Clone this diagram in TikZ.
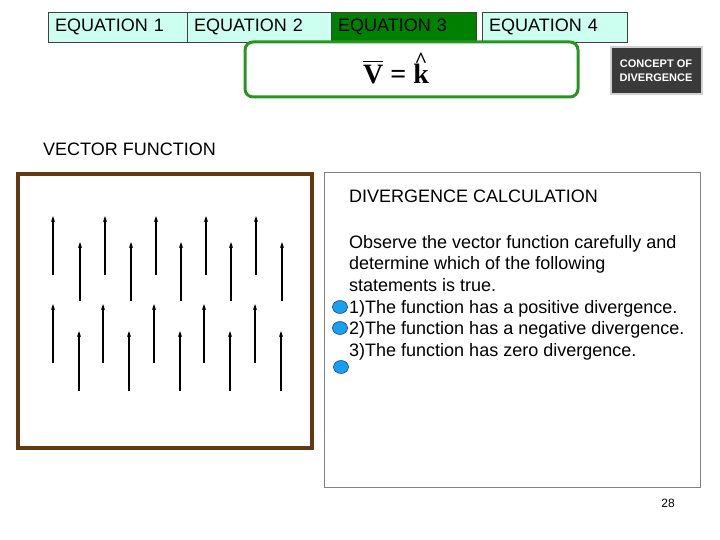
\documentclass[tikz,border=0pt]{standalone}
\usepackage{fontspec}
\setmainfont{Liberation Sans}
\newfontfamily\eqfont{Liberation Serif}
\usetikzlibrary{shapes.geometric,arrows.meta}
\definecolor{tabcyan}{RGB}{204,255,240}
\definecolor{tabgreen}{RGB}{0,128,0}
\definecolor{boxgreen}{RGB}{40,150,30}
\definecolor{framebrown}{RGB}{99,57,15}
\definecolor{btngray}{RGB}{58,58,58}
\definecolor{radioblue}{RGB}{25,160,235}
% bar over V, hat over k
\newcommand\barV{\vbox{\hrule height 1.6pt\kern 3.5pt\hbox{V}}}
\newcommand\hatk{\vbox{\offinterlineskip\halign{\hfil##\hfil\cr
    {\fontsize{22}{24}\selectfont\textasciicircum}\cr\noalign{\kern-3pt}k\cr}}}
\tikzset{
    tabbox/.style={draw=black!75, fill=tabcyan, anchor=west, minimum height=30pt,
        inner sep=0pt, inner xsep=7pt, align=left, text width=#1,
        font=\fontsize{18}{21}\selectfont},
    radio/.style={ellipse, draw=blue!60!black, fill=radioblue, minimum width=15pt, minimum height=13pt, inner sep=0pt},
    vec/.style={line width=1.1pt, -{Stealth[length=6pt,width=4pt]}}
}
\begin{document}
\begin{tikzpicture}[x=1pt, y=-1pt]
    \useasboundingbox (0,0) rectangle (720,540);

    % Tabs
    \node[tabbox=125pt] (tab1) at (48,27) {EQUATION 1};
    \node[tabbox=130pt] (tab2) at (187,27) {EQUATION 2};
    \node[tabbox=131pt, fill=tabgreen] (tab3) at (331,27) {EQUATION 3};
    \node[tabbox=131pt] (tab4) at (482,27) {EQUATION 4};

    % Formula box
    \node[draw=boxgreen, line width=3pt, rounded corners=8pt, minimum width=333pt, minimum height=55pt] (formula) at (411.5,69.5) {};
    \node[anchor=base, inner sep=0pt, font=\fontsize{28}{30}\selectfont\eqfont\bfseries] (eq) at (396,84)
        {\barV\ = \hatk};

    % Button
    \node[fill=btngray, draw=gray!35, line width=2pt, minimum width=91pt, minimum height=47pt,
        text=white, align=center, font=\fontsize{11}{14}\selectfont\bfseries] (concept) at (656,71)
        {CONCEPT OF\\DIVERGENCE};

    % Left side
    \node[anchor=west, inner sep=0pt, font=\fontsize{18}{21}\selectfont] (vftitle) at (43,149) {VECTOR FUNCTION};
    \node[draw=framebrown, line width=4pt, minimum width=294pt, minimum height=274pt] (frame) at (165,311) {};

    % Vector field
    \foreach \x in {53,105,156,206,256}
        \draw[vec] (\x,275) -- (\x,216);
    \foreach \x in {80,131,181,231,282}
        \draw[vec] (\x,301) -- (\x,242);
    \foreach \x in {53,103,154,204,255}
        \draw[vec] (\x,363) -- (\x,304);
    \foreach \x in {79,129,180,230,281}
        \draw[vec] (\x,391) -- (\x,331);

    % Right panel
    \node[draw=gray, line width=0.8pt, minimum width=376pt, minimum height=315pt] (panel) at (512,329.5) {};
    \node[anchor=west, inner sep=0pt, font=\fontsize{18}{21}\selectfont] (dctitle) at (349,196) {DIVERGENCE CALCULATION};
    \node[anchor=north west, inner sep=0pt, align=left, font=\fontsize{18}{21.6}\selectfont] (question) at (349,235)
        {Observe the vector function carefully and\\
         determine which of the following\\
         statements is true.\\
         1)The function has a positive divergence.\\
         2)The function has a negative divergence.\\
         3)The function has zero divergence.};

    % Choices
    \node[radio] (choice1) at (340,307) {};
    \node[radio] (choice2) at (340,328) {};
    \node[radio] (choice3) at (341,367) {};

    \node[font=\fontsize{12}{14}\selectfont] (pagenum) at (668,503) {28};
\end{tikzpicture}
\end{document}
